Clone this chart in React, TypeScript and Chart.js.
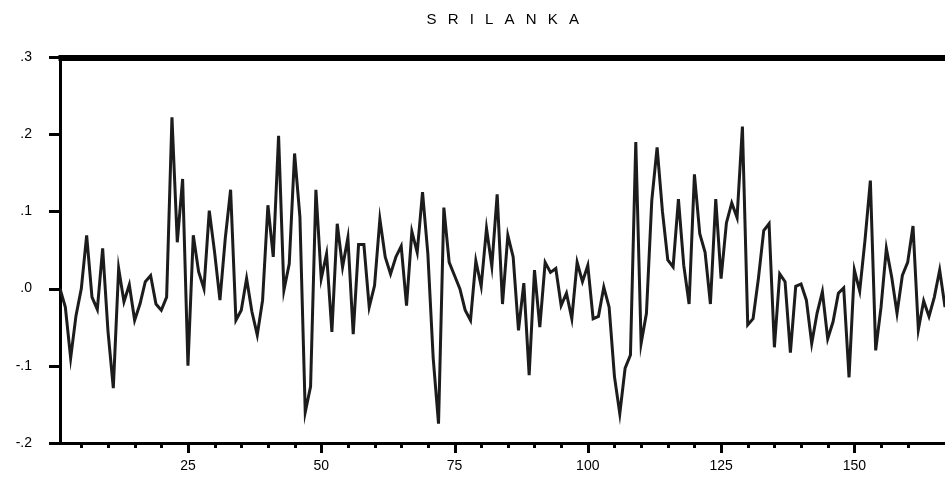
import React, { useEffect, useRef } from 'react';
import { Chart, registerables } from 'chart.js';

Chart.register(...registerables);

const TITLE = 'S R I L A N K A';

// observation index runs 1..N
const VALUES: number[] = [
  0.0, -0.024, -0.09, -0.035, 0.0, 0.069, -0.011, -0.027, 0.052, -0.055,
  -0.129, 0.026, -0.017, 0.005, -0.041, -0.02, 0.009, 0.017, -0.02, -0.028,
  -0.011, 0.222, 0.06, 0.142, -0.1, 0.069, 0.022, 0.0, 0.101, 0.047,
  -0.015, 0.065, 0.128, -0.041, -0.028, 0.013, -0.03, -0.06, -0.015, 0.108,
  0.041, 0.198, -0.002, 0.032, 0.175, 0.093, -0.16, -0.127, 0.128, 0.013,
  0.045, -0.056, 0.084, 0.028, 0.066, -0.059, 0.057, 0.057, -0.024, 0.004,
  0.09, 0.041, 0.019, 0.041, 0.055, -0.022, 0.074, 0.047, 0.125, 0.045,
  -0.09, -0.175, 0.105, 0.034, 0.017, 0.0, -0.028, -0.041, 0.036, 0.003,
  0.078, 0.029, 0.122, -0.02, 0.069, 0.041, -0.054, 0.007, -0.112, 0.024,
  -0.05, 0.034, 0.021, 0.026, -0.022, -0.006, -0.039, 0.034, 0.009, 0.03,
  -0.039, -0.036, 0.002, -0.024, -0.114, -0.162, -0.103, -0.086, 0.19, -0.071,
  -0.032, 0.114, 0.183, 0.1, 0.037, 0.028, 0.116, 0.03, -0.02, 0.148,
  0.071, 0.047, -0.02, 0.116, 0.013, 0.085, 0.111, 0.092, 0.21, -0.047,
  -0.039, 0.013, 0.075, 0.084, -0.076, 0.019, 0.009, -0.083, 0.003, 0.006,
  -0.015, -0.071, -0.032, -0.004, -0.065, -0.043, -0.006, 0.001, -0.115, 0.024,
  -0.003, 0.063, 0.14, -0.08, -0.024, 0.052, 0.015, -0.032, 0.017, 0.034,
  0.081, -0.053, -0.016, -0.036, -0.011, 0.024, -0.024,
];

const X_MIN = 1;
const X_MAX = 167;
const X_MINOR_STEP = 5;
const X_LABEL_STEP = 25;
const Y_MIN = -0.2;
const Y_MAX = 0.3;
const Y_STEP = 0.1;

const FONT = '"Liberation Sans", Arial, sans-serif';

function fmtY(v: number): string {
  const s = Math.round(v * 10);
  if (s === 0) return '.0';
  return s < 0 ? '-.' + -s : '.' + s;
}

export default function App() {
  const ref = useRef<HTMLCanvasElement>(null);

  useEffect(() => {
    if (!ref.current) return;

    const framePlugin = {
      id: 'frame',
      afterDraw(chart: any) {
        const { ctx, chartArea, scales } = chart;
        const xs = scales.x;
        const ys = scales.y;
        ctx.save();
        ctx.strokeStyle = '#000';
        ctx.lineCap = 'butt';
        // thick top border
        ctx.lineWidth = 6;
        ctx.beginPath();
        ctx.moveTo(chartArea.left - 1.5, chartArea.top + 1);
        ctx.lineTo(chartArea.right, chartArea.top + 1);
        ctx.stroke();
        // y tick marks
        ctx.lineWidth = 3;
        ys.ticks.forEach((t: any) => {
          const y = Math.round(ys.getPixelForValue(t.value)) + 0.5;
          ctx.beginPath();
          ctx.moveTo(chartArea.left - 11, y);
          ctx.lineTo(chartArea.left, y);
          ctx.stroke();
        });
        // x tick marks
        xs.ticks.forEach((t: any) => {
          const v = Math.round(t.value);
          if (v % X_MINOR_STEP !== 0) return;
          const x = Math.round(xs.getPixelForValue(v)) + 0.5;
          const len = v % X_LABEL_STEP === 0 ? 10 : 5;
          ctx.beginPath();
          ctx.moveTo(x, chartArea.bottom);
          ctx.lineTo(x, chartArea.bottom + len);
          ctx.stroke();
        });
        // title
        ctx.fillStyle = '#000';
        ctx.font = '15px ' + FONT;
        (ctx as any).letterSpacing = '3.5px';
        ctx.textAlign = 'center';
        ctx.textBaseline = 'middle';
        ctx.fillText(TITLE, (chartArea.left + chartArea.right) / 2 + 2, 20);
        ctx.restore();
      },
    };

    const chart = new Chart(ref.current, {
      type: 'line',
      data: {
        datasets: [
          {
            data: VALUES.map((v, i) => ({ x: i + 1, y: v })),
            borderColor: '#1c1c1c',
            borderWidth: 3,
            pointRadius: 0,
            tension: 0,
            fill: false,
          },
        ],
      },
      options: {
        responsive: false,
        animation: false,
        layout: { padding: { top: 57, left: 0, right: 0, bottom: 0 } },
        plugins: {
          legend: { display: false },
          title: { display: false },
          tooltip: { enabled: false },
        },
        scales: {
          x: {
            type: 'linear',
            min: X_MIN,
            max: X_MAX,
            afterFit: (s: any) => {
              s.height = 35;
            },
            grid: { display: false, drawTicks: true, tickLength: 15 },
            border: { display: true, color: '#000', width: 3 },
            ticks: {
              stepSize: X_MINOR_STEP,
              autoSkip: false,
              maxRotation: 0,
              minRotation: 0,
              padding: 0,
              color: '#000',
              font: { family: FONT, size: 14 },
              callback: (v: any) => {
                const n = Math.round(Number(v));
                return n % X_LABEL_STEP === 0 && n >= X_LABEL_STEP ? String(n) : '';
              },
            },
          },
          y: {
            min: Y_MIN,
            max: Y_MAX,
            afterFit: (s: any) => {
              s.width = 60;
            },
            grid: { display: false, drawTicks: true, tickLength: 28 },
            border: { display: true, color: '#000', width: 3 },
            ticks: {
              stepSize: Y_STEP,
              padding: 0,
              color: '#000',
              font: { family: FONT, size: 14 },
              callback: (v: any) => fmtY(Number(v)),
            },
          },
        },
      },
      plugins: [framePlugin],
    });

    return () => chart.destroy();
  }, []);

  return (
    <div style={{ position: 'absolute', left: 0, top: 0, width: 945, height: 478, background: '#fff' }}>
      <canvas ref={ref} width={945} height={478} style={{ display: 'block' }} />
    </div>
  );
}
